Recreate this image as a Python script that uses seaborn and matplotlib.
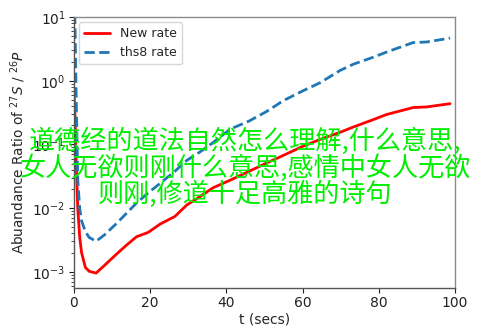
import matplotlib
matplotlib.use("Agg")
import matplotlib.pyplot as plt
import seaborn as sns
import pandas as pd

t_secs = [0, 0.3, 0.6, 1.0, 1.5, 2.0, 3.0, 4.0, 5.8, 8.0, 11.0, 13.8, 16.4, 19.5,
          22.6, 26.5, 29.6, 33.0, 36.5, 41.0, 46.0, 50.6, 55.0, 60.0, 64.6, 69.8,
          73.3, 78.5, 82.0, 89.0, 92.6, 98.7]
new_rate = [0.708, 0.251, 0.0501, 0.0100, 0.00355, 0.00200, 0.00117, 0.00102,
            0.000955, 0.00126, 0.00186, 0.00263, 0.00355, 0.00417, 0.00562,
            0.00741, 0.0112, 0.0151, 0.0209, 0.0275, 0.0380, 0.0513, 0.0676,
            0.0933, 0.120, 0.155, 0.188, 0.245, 0.295, 0.380, 0.389, 0.437]
ths8_rate = [63.0, 6.3, 0.50, 0.0282, 0.0100, 0.00631, 0.00427, 0.00347,
             0.00302, 0.00380, 0.00562, 0.00832, 0.0120, 0.0174, 0.0245, 0.0380,
             0.0562, 0.0759, 0.107, 0.174, 0.234, 0.331, 0.490, 0.692, 0.933,
             1.45, 1.82, 2.34, 2.82, 3.98, 4.07, 4.68]
series_names = ["New rate", "ths8 rate"]
x_ticks = [0, 20, 40, 60, 80, 100]
overlay_lines = ["道德经的道法自然怎么理解,什么意思,",
                 "女人无欲则刚什么意思,感情中女人无欲",
                 "则刚,修道十足高雅的诗句"]

sns.set_style("ticks")
plt.rcParams['font.family'] = ['DejaVu Sans', 'Noto Sans CJK SC']

df_new = pd.DataFrame({"t": t_secs, "ratio": new_rate})
df_ths = pd.DataFrame({"t": t_secs, "ratio": ths8_rate})

fig = plt.figure(figsize=(4.93, 3.29), dpi=100)
ax = fig.add_axes([0.150, 0.125, 0.773, 0.823])

sns.lineplot(data=df_new, x="t", y="ratio", ax=ax, color="red", lw=2,
             label=series_names[0], sort=False)
sns.lineplot(data=df_ths, x="t", y="ratio", ax=ax, color="#1f77b4", lw=2,
             ls=(0, (3.7, 1.6)), label=series_names[1], sort=False)

ax.set_yscale("log")
ax.set_ylim(5.6e-4, 10)
ax.set_xlim(0, 100)
ax.set_xticks(x_ticks)
ax.tick_params(labelsize=10, length=3.5, width=0.8, colors="#222222", pad=2.5)
ax.tick_params(which="minor", length=2, width=0.6)
ax.set_xlabel("t (secs)", fontsize=10, labelpad=2)
ax.set_ylabel(r"Abuandance Ratio of $^{27}S$ / $^{26}P$", fontsize=9.8, labelpad=3)

for side in ["top", "right"]:
    ax.spines[side].set_visible(True)
    ax.spines[side].set_color("#8a8a8a")
for side in ["left", "bottom"]:
    ax.spines[side].set_color("#555555")
for s in ax.spines.values():
    s.set_linewidth(1.0)

leg = ax.legend(loc="upper left", fontsize=9, frameon=True, handlelength=2.1,
                borderpad=0.4, labelspacing=0.5, fancybox=True,
                borderaxespad=0.4)
leg.get_frame().set_edgecolor("#cccccc")

fig.text(0.498, 0.490, "\n".join(overlay_lines), ha="center", va="center",
         multialignment="center", fontsize=18.8, color="#00ee00",
         family=['Noto Sans CJK SC', 'DejaVu Sans'], linespacing=0.95)

fig.savefig("out.png", dpi=100)
